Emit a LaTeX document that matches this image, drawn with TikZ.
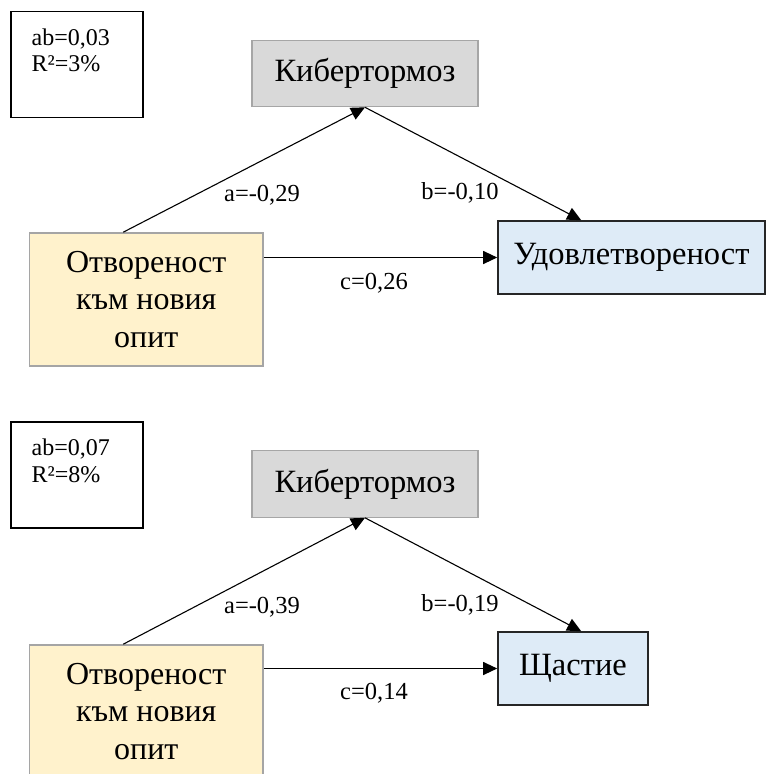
\documentclass[tikz,border=0pt]{standalone}
\usepackage{fontspec}
\setmainfont{Liberation Serif}
\usetikzlibrary{arrows.meta,calc}

\definecolor{cyberfill}{HTML}{D9D9D9}
\definecolor{cyberline}{HTML}{A6A6A6}
\definecolor{openfill}{HTML}{FFF2CC}
\definecolor{openline}{HTML}{A5A5A5}
\definecolor{outfill}{HTML}{DEEBF7}

\tikzset{
  statbox/.style={draw=black, line width=1.6pt, minimum width=132pt, minimum height=106pt, inner sep=0pt},
  stattext/.style={anchor=base west, font=\fontsize{24}{27}\selectfont, inner sep=0pt},
  cyberbox/.style={draw=cyberline, fill=cyberfill, line width=1.1pt, minimum width=226pt, minimum height=66.5pt, inner sep=0pt, font=\fontsize{32.5}{36}\selectfont},
  openbox/.style={draw=openline, fill=openfill, line width=1.6pt, minimum width=233.5pt, minimum height=133pt, inner sep=0pt, align=center, font=\fontsize{32}{37.5}\selectfont},
  outbox/.style={draw=black!85, fill=outfill, line width=1.6pt, minimum height=73pt, inner sep=0pt, font=\fontsize{32.5}{36}\selectfont},
  path/.style={draw=black, line width=1.1pt, -{Triangle[length=14pt,width=13pt]}},
  coef/.style={font=\fontsize{24.5}{27}\selectfont, inner sep=0pt}
}

\begin{document}
\begin{tikzpicture}[x=1pt, y=-1pt]
\useasboundingbox (0,0) rectangle (766,774);
\clip (0,0) rectangle (766,774);

% ---- upper model: satisfaction ----
\node[statbox] (statsA) at (77,64.5) {};
\node[stattext] (statsAab) at (31.5,45) {ab=0,03};
\node[stattext] (statsAr) at (31.5,71.5) {R²=3\%};

\node[cyberbox] (cyberA) at (365,73.5) {Кибертормоз};
\node[openbox] (openA) at (146.25,299.5) {Отвореност\\към новия\\опит};
\node[outbox, minimum width=267pt] (satA) at (631.5,257.5) {Удовлетвореност};

\draw[path] ($(openA.north)+(-23,0)$) -- (cyberA.south);
\draw[path] (cyberA.south) -- ($(satA.north west)+(84,0)$);
\draw[path] (satA.west -| openA.east) -- (satA.west);

\node[coef] (aA) at (262,195) {a=-0,29};
\node[coef] (bA) at (460,193) {b=-0,10};
\node[coef] (cA) at (374,283) {c=0,26};

% ---- lower model: happiness ----
\node[statbox] (statsB) at (77,475) {};
\node[stattext] (statsBab) at (31.5,455.5) {ab=0,07};
\node[stattext] (statsBr) at (31.5,482) {R²=8\%};

\node[cyberbox] (cyberB) at (365,484) {Кибертормоз};
\node[openbox] (openB) at (146.25,711.5) {Отвореност\\към новия\\опит};
\node[outbox, minimum width=150pt] (hapB) at (573,668.5) {Щастие};

\draw[path] ($(openB.north)+(-23,0)$) -- (cyberB.south);
\draw[path] (cyberB.south) -- ($(hapB.north west)+(84,0)$);
\draw[path] (hapB.west -| openB.east) -- (hapB.west);

\node[coef] (aB) at (262,607) {a=-0,39};
\node[coef] (bB) at (460,605) {b=-0,19};
\node[coef] (cB) at (374,693) {c=0,14};
\end{tikzpicture}
\end{document}
